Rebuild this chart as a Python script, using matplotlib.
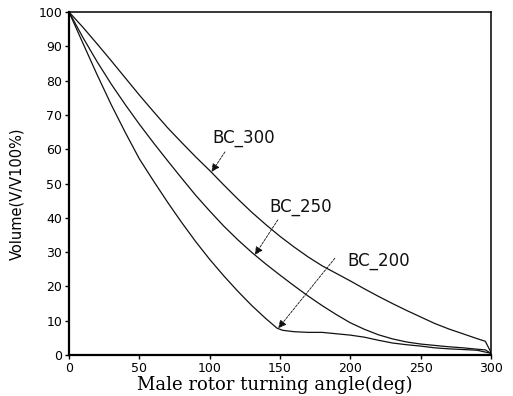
import matplotlib.pyplot as plt
import numpy as np

# rotor angle (deg) and chamber volume (%)
angle = [0, 10, 20, 30, 40, 50, 60, 70, 80, 90, 100, 110, 120, 130, 140, 150,
         160, 170, 180, 190, 200, 210, 220, 230, 240, 250, 260, 270, 280, 290, 296, 300]

bc_300 = [100, 95.5, 90.7, 85.8, 80.8, 75.8, 71.0, 66.3, 62.0, 57.8, 53.8, 49.6, 45.5, 41.6, 38.0, 34.6,
          31.5, 28.6, 26.0, 23.8, 21.6, 19.3, 17.1, 15.0, 13.0, 11.1, 9.2, 7.6, 6.2, 4.8, 4.0, 0.8]
bc_250 = [100, 92.5, 85.5, 79.0, 73.0, 67.3, 61.9, 56.7, 51.6, 46.6, 42.0, 37.6, 33.6, 29.9, 26.5, 23.3,
          20.2, 17.2, 14.4, 11.8, 9.4, 7.5, 5.9, 4.7, 3.8, 3.2, 2.8, 2.4, 2.1, 1.7, 1.5, 0.5]

angle_200 = [0, 10, 20, 30, 40, 50, 60, 70, 80, 90, 100, 110, 120, 130, 140, 148, 152,
             160, 170, 180, 190, 200, 210, 220, 230, 240, 250, 260, 270, 280, 290, 300]
bc_200 = [100, 90.8, 81.7, 73.0, 64.9, 57.2, 50.8, 44.6, 38.7, 33.1, 27.9, 23.1, 18.6, 14.4, 10.6, 7.8, 7.2,
          6.8, 6.6, 6.6, 6.2, 5.8, 5.2, 4.3, 3.5, 3.0, 2.6, 2.1, 1.8, 1.6, 1.4, 0.5]

labels = ["BC_300", "BC_250", "BC_200"]
label_xy = [(124, 63.3), (165, 43.1), (220, 27.4)]
arrow_from = [(110.9, 59.2), (148.5, 39.4), (189, 28.2)]
arrow_to = [(101.4, 53.4), (132.2, 29.2), (148.8, 7.8)]

fig = plt.figure(figsize=(5.13, 3.96), dpi=100)
ax = fig.add_axes([0.1345, 0.1035, 0.8225, 0.8662])

ax.plot(angle, bc_300, color='#111111', lw=0.9)
ax.plot(angle, bc_250, color='#111111', lw=0.9)
ax.plot(angle_200, bc_200, color='#111111', lw=0.9)

for lab, txy, a0, a1 in zip(labels, label_xy, arrow_from, arrow_to):
    ax.text(txy[0], txy[1], lab, fontsize=12, ha='center', va='center', color='#111111')
    ax.annotate("", xy=a1, xytext=a0,
                arrowprops=dict(arrowstyle='-|>', color='#111111', lw=0.6,
                                linestyle=(0, (3, 1.5)), mutation_scale=12,
                                shrinkA=0, shrinkB=0))

ax.set_xlim(0, 300)
ax.set_ylim(0, 100)
ax.set_xticks([0, 50, 100, 150, 200, 250, 300])
ax.set_yticks(range(0, 101, 10))
ax.tick_params(direction='out', length=3, width=1, labelsize=9, pad=2)
for s in ['left', 'bottom']:
    ax.spines[s].set_linewidth(1.6)
for s in ['top', 'right']:
    ax.spines[s].set_linewidth(1.1)

ax.set_xlabel("Male rotor turning angle(deg)", family='DejaVu Serif', fontsize=13)
ax.xaxis.set_label_coords(0.487, -0.06)
ax.set_ylabel("Volume(V/V100%)", fontsize=10.5)
ax.yaxis.set_label_coords(-0.105, 0.47)

fig.savefig("out.png", dpi=100)
